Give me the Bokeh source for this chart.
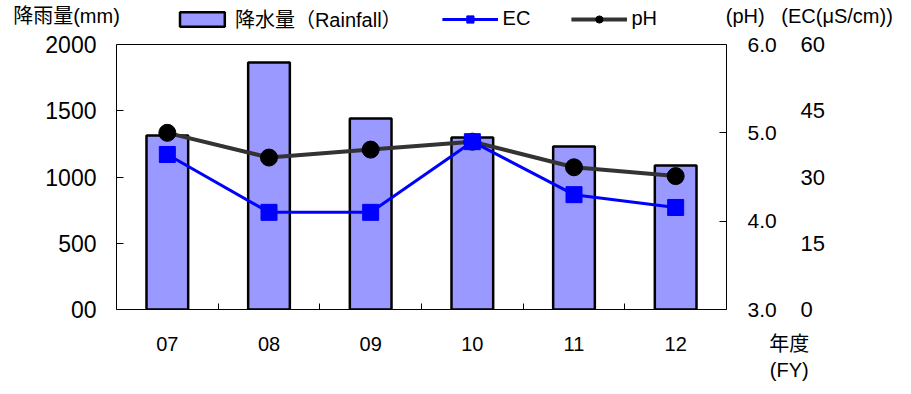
from bokeh.plotting import figure
from bokeh.models import (Range1d, LinearAxis, FixedTicker, Legend, LegendItem,
                          PrintfTickFormatter, Span)
from bokeh.embed import file_html
from bokeh.resources import INLINE

# ---- data ----
years = ["07", "08", "09", "10", "11", "12"]
rainfall = [1313, 1864, 1442, 1298, 1230, 1087]
ph = [5.00, 4.72, 4.81, 4.90, 4.61, 4.51]
ec = [35.1, 22.0, 22.0, 38.0, 26.0, 23.1]
rain_ticks = [0, 500, 1000, 1500, 2000]
ph_ticks = [3, 4, 5, 6]
ec_ticks = [0, 15, 30, 45, 60]
rain_title = "降雨量(mm)"
ph_title = "(pH)"
ec_title = "(EC(μS/cm))"
fy_title = ["年度", "(FY)"]
series_names = ["降水量（Rainfall）", "EC", "pH"]

# ---- layout (pixels) ----
W, H = 910, 390
LEFT, RIGHT_EDGE = 116, 726
FRAME_TOP, BOX_TOP, BOX_BOTTOM = 4, 44, 309
ratio = (BOX_BOTTOM - FRAME_TOP) / (BOX_BOTTOM - BOX_TOP)   # room for the legend row

xs = list(range(1, len(years) + 1))
bounds = [i + 0.5 for i in xs[:-1]]
xend = len(years) + 0.5

NUM_FONT = "Liberation Sans"
MIX_FONT = "Liberation Sans, Noto Sans CJK JP"
ISP = "\u3000"
SP = "\u00a0"

p = figure(width=W, height=H, output_backend="svg", toolbar_location=None,
           x_range=Range1d(0.5, xend),
           y_range=Range1d(0, rain_ticks[-1] * ratio),
           min_border_left=LEFT, min_border_right=W - RIGHT_EDGE,
           min_border_top=FRAME_TOP, min_border_bottom=H - BOX_BOTTOM)
p.extra_y_ranges = {
    "ph": Range1d(ph_ticks[0], ph_ticks[0] + (ph_ticks[-1] - ph_ticks[0]) * ratio),
    "ec": Range1d(0, ec_ticks[-1] * ratio)}
p.extra_x_ranges = {"top": Range1d(0, 1)}
p.xgrid.visible = False
p.ygrid.visible = False
p.outline_line_color = None
p.background_fill_color = "white"
p.border_fill_color = "white"

bars = p.vbar(x=xs, top=rainfall, width=0.41, bottom=0,
              fill_color="#9999FF", line_color="#000000", line_width=2.5)
ph_line = p.line(x=xs, y=ph, y_range_name="ph", line_color="#333333", line_width=4)
ph_pts = p.scatter(x=xs, y=ph, y_range_name="ph", marker="circle", size=17,
                   fill_color="#000000", line_color="#000000")
ec_line = p.line(x=xs, y=ec, y_range_name="ec", line_color="#0000FF", line_width=3)
ec_pts = p.scatter(x=xs, y=ec, y_range_name="ec", marker="square", size=16,
                   fill_color="#0000FF", line_color="#0000FF")

# top edge of the plot box
p.add_layout(Span(location=rain_ticks[-1], dimension="width",
                  line_color="#000000", line_width=1))

def plain(ax, font, size, standoff):
    ax.major_tick_out = 0
    ax.minor_tick_line_color = None
    ax.axis_line_color = None
    ax.major_label_standoff = standoff
    ax.major_label_text_font = font
    ax.major_label_text_font_size = size
    ax.major_label_text_color = "#000000"

# x axis (ticks between the years; fiscal-year caption at the right end)
xa = p.xaxis[0]
plain(xa, MIX_FONT, "20px", 23)
xa.axis_line_color = "#000000"
xa.ticker = FixedTicker(ticks=xs + [xend], minor_ticks=bounds)
overrides = {x: y for x, y in zip(xs, years)}
overrides[xend] = (ISP * 6 + SP + fy_title[0]) + "\n" + (ISP * 6 + SP + fy_title[1])
xa.major_label_overrides = overrides
xa.major_label_text_line_height = 1.2
xa.major_tick_in = 0
xa.minor_tick_in = 6
xa.minor_tick_out = 0
xa.minor_tick_line_color = "#000000"

# left axis
ya = p.yaxis[0]
plain(ya, NUM_FONT, "23px", 20)
ya.axis_line_color = "#000000"
ya.bounds = (rain_ticks[0], rain_ticks[-1])
ya.ticker = FixedTicker(ticks=rain_ticks)
ya.major_label_overrides = {0: "00"}
ya.major_tick_in = 7

# pH axis
pa = LinearAxis(y_range_name="ph", ticker=FixedTicker(ticks=ph_ticks),
                formatter=PrintfTickFormatter(format="%.1f"))
plain(pa, NUM_FONT, "21px", 21)
pa.axis_line_color = "#000000"
pa.bounds = (ph_ticks[0], ph_ticks[-1])
pa.major_tick_in = 7
p.add_layout(pa, "right")

# EC axis
ea = LinearAxis(y_range_name="ec", ticker=FixedTicker(ticks=ec_ticks))
plain(ea, NUM_FONT, "22px", 21)
ea.major_tick_in = 0
p.add_layout(ea, "right")

# axis titles on a label-only top axis (pulled down into the legend row)
ta = LinearAxis(x_range_name="top", ticker=FixedTicker(ticks=[0, 1]))
plain(ta, MIX_FONT, "20px", -22)
ta.major_tick_in = 0
ta.major_label_overrides = {0: rain_title + ISP * 5,
                            1: ISP * 8 + SP + ph_title + SP * 3 + ec_title}
p.add_layout(ta, "above")

# legend row at the top of the frame
legend = Legend(items=[
    LegendItem(label=series_names[0], renderers=[bars]),
    LegendItem(label=series_names[1], renderers=[ec_line, ec_pts]),
    LegendItem(label=series_names[2] + SP * 2, renderers=[ph_line, ph_pts]),
], orientation="horizontal", location="top_center",
    glyph_width=56, glyph_height=18, label_height=13, label_standoff=5, spacing=40,
    padding=0, margin=0, border_line_color=None,
    background_fill_alpha=0, label_text_font=MIX_FONT,
    label_text_font_size="20px", label_text_color="#000000")
p.add_layout(legend)

open("out.html", "w").write(file_html(p, INLINE))
